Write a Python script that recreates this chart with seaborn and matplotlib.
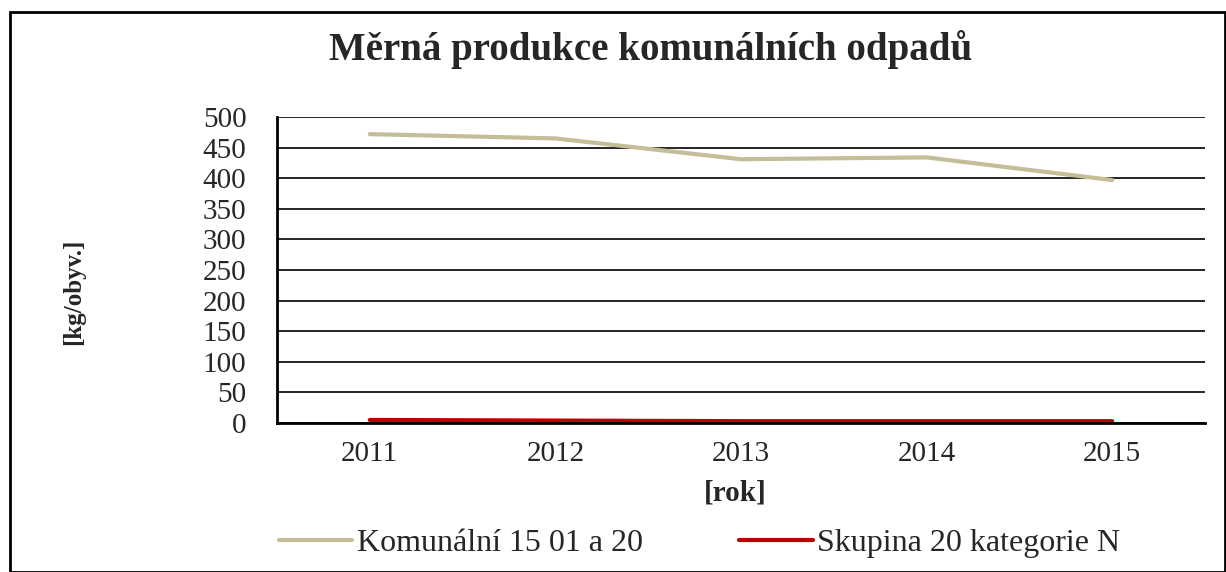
import matplotlib
matplotlib.use("Agg")
import matplotlib.pyplot as plt
import seaborn as sns
import pandas as pd
import numpy as np
from matplotlib.lines import Line2D
from matplotlib.patches import Rectangle

years = ["2011", "2012", "2013", "2014", "2015"]
komunalni = [472, 465, 431, 434, 397]
skupina20 = [5, 4, 3, 3, 3]
series_names = ["Komunální 15 01 a 20", "Skupina 20 kategorie N"]
colors = ["#C4BD97", "#C00000"]

sns.set_style("white")
plt.rcParams['font.family'] = ['Liberation Serif', 'DejaVu Serif']

df = pd.DataFrame({
    "rok": years * 2,
    "hodnota": komunalni + skupina20,
    "serie": [series_names[0]] * len(years) + [series_names[1]] * len(years),
})
df["pos"] = df["rok"].map({y: i for i, y in enumerate(years)})

W, H = 1226, 572
fig = plt.figure(figsize=(W / 100, H / 100), dpi=100)
L, R, T, B = 277, 1205, 117, 423
ax = fig.add_axes([L / W, 1 - B / H, (R - L) / W, (B - T) / H])

sns.lineplot(data=df, x="pos", y="hodnota", hue="serie", palette=colors,
             linewidth=3, ax=ax, legend=False)

ax.set_xlim(-0.5, len(years) - 0.5)
ax.set_ylim(0, 500)
ax.set_yticks(np.arange(0, 501, 50))
ax.yaxis.grid(True, color="black", linewidth=1.2)
ax.set_axisbelow(True)
ax.set_xticks(range(len(years)))
ax.set_xticklabels(years)
ax.set_xticks(np.arange(-0.5, len(years), 1), minor=True)
ax.tick_params(axis="x", which="major", length=0, labelsize=21, pad=13)
ax.tick_params(axis="x", which="minor", length=7, width=1.5, color="black", direction="out")
ax.tick_params(axis="y", which="major", length=8, width=1.5, color="black", direction="out",
               labelsize=21, pad=14)
for s in ["top", "right"]:
    ax.spines[s].set_visible(False)
for s in ["left", "bottom"]:
    ax.spines[s].set_color("black")
    ax.spines[s].set_linewidth(2)

ax.set_xlabel("")
ax.set_ylabel("")
fig.text(735 / W, 1 - 493 / H, "[rok]", ha="center", va="center", fontsize=21, fontweight="bold")
fig.text(74 / W, 1 - 292 / H, "[kg/obyv.]", ha="center", va="center", fontsize=18,
         fontweight="bold", rotation=90)
fig.text(651 / W, 1 - 50 / H, "Měrná produkce komunálních odpadů", ha="center", va="center",
         fontsize=28, fontweight="bold")

handles = [Line2D([0], [0], color=c, linewidth=3) for c in colors]
fig.legend(handles, series_names, loc="center left", bbox_to_anchor=(279 / W, 1 - 543 / H),
           ncol=2, frameon=False, fontsize=23, handlelength=2.3, handletextpad=0.15,
           columnspacing=3.0, borderpad=0, borderaxespad=0)

fig.patches.append(Rectangle((10 / W, 0), 1 - 10 / W - 0.001, 1 - 12 / H, transform=fig.transFigure,
                             fill=False, edgecolor="black", linewidth=2))

fig.savefig("out.png", dpi=100)
